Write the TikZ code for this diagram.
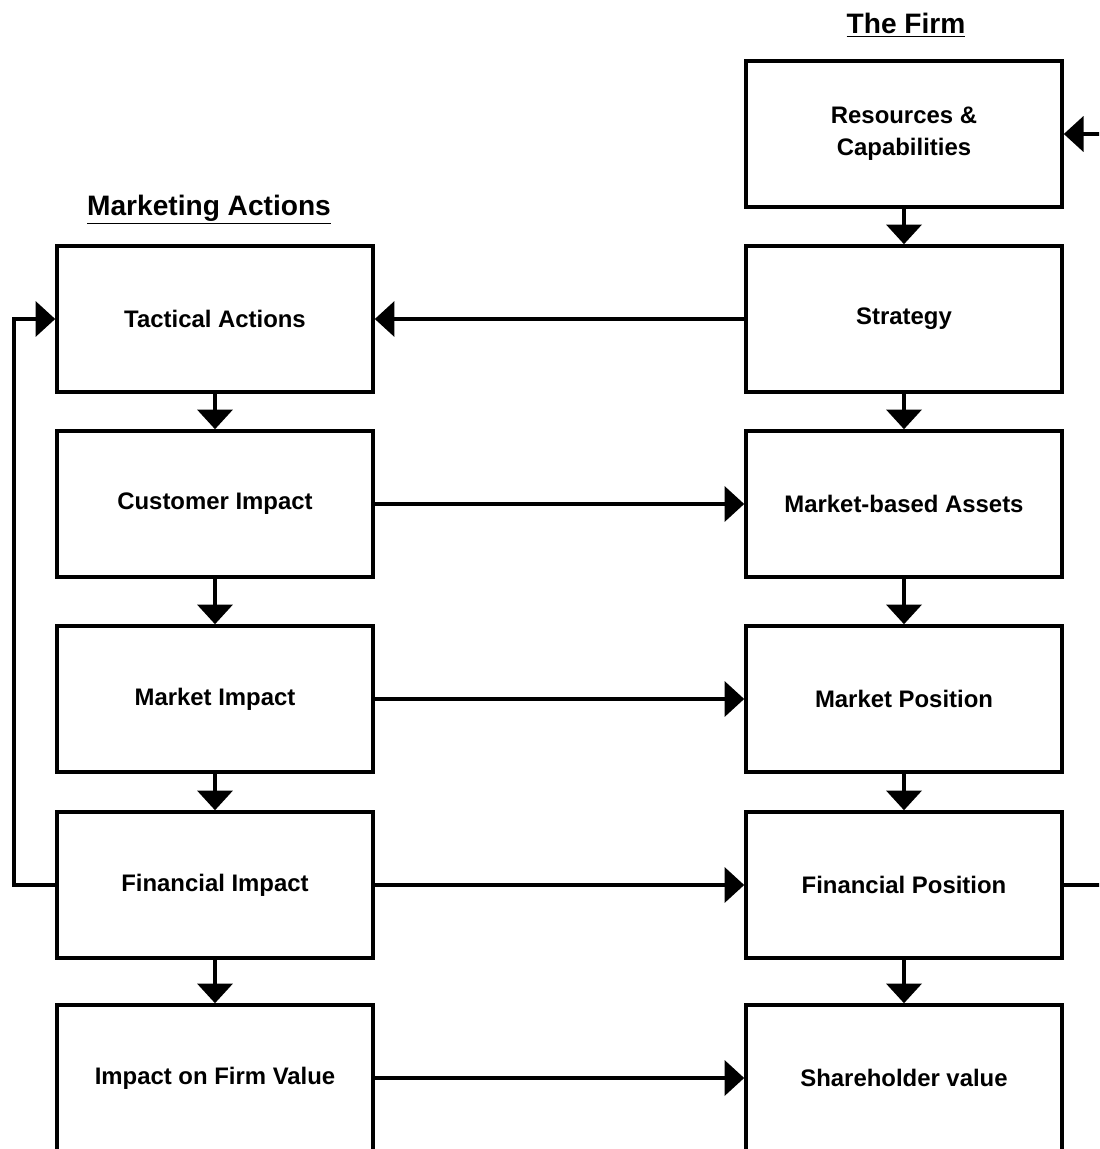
\documentclass[tikz,border=0pt]{standalone}
\usepackage{fontspec}
\setmainfont{Liberation Sans}
\usetikzlibrary{arrows.meta}

\tikzset{
  box/.style={draw, line width=2.5pt, minimum width=7.9cm, minimum height=3.65cm,
    inner sep=0pt, align=center, font=\bfseries\fontsize{17}{23}\selectfont},
  link/.style={line width=2.5pt, -{Triangle[width=25pt,length=14pt]}},
  heading/.style={font=\bfseries\fontsize{20}{24}\selectfont}
}

\begin{document}
\begin{tikzpicture}[x=0.025cm,y=-0.025cm]
  \clip (0,0) rectangle (1099,1149);

  % Column headings
  \node[heading] (mhead) at (209,210) {\underline{Marketing Actions}};
  \node[heading] (fhead) at (906,25) {\underline{The Firm}};

  % The firm
  \node[box] (res) at (904,134) {Resources \&\\Capabilities};
  \node[box] (strat) at (904,319) {Strategy};
  \node[box] (mba) at (904,504) {Market-based Assets};
  \node[box] (mpos) at (904,699) {Market Position};
  \node[box] (fpos) at (904,885) {Financial Position};
  \node[box] (shv) at (904,1078) {Shareholder value};

  % Marketing actions
  \node[box] (tact) at (215,319) {Tactical Actions};
  \node[box] (cust) at (215,504) {Customer Impact};
  \node[box] (mimp) at (215,699) {Market Impact};
  \node[box] (fimp) at (215,885) {Financial Impact};
  \node[box] (fval) at (215,1078) {Impact on Firm Value};

  % Down the columns
  \draw[link] (res) -- (strat);
  \draw[link] (strat) -- (mba);
  \draw[link] (mba) -- (mpos);
  \draw[link] (mpos) -- (fpos);
  \draw[link] (fpos) -- (shv);
  \draw[link] (tact) -- (cust);
  \draw[link] (cust) -- (mimp);
  \draw[link] (mimp) -- (fimp);
  \draw[link] (fimp) -- (fval);

  % Across
  \draw[link] (strat) -- (tact);
  \draw[link] (cust) -- (mba);
  \draw[link] (mimp) -- (mpos);
  \draw[link] (fimp) -- (fpos);
  \draw[link] (fval) -- (shv);

  % Feedback loops
  \coordinate (rturn) at (1115,0);
  \coordinate (lturn) at (14,0);
  \draw[link] (fpos.east) -- (fpos.east -| rturn) |- (res.east);
  \draw[link] (fimp.west) -- (fimp.west -| lturn) |- (tact.west);
\end{tikzpicture}
\end{document}
